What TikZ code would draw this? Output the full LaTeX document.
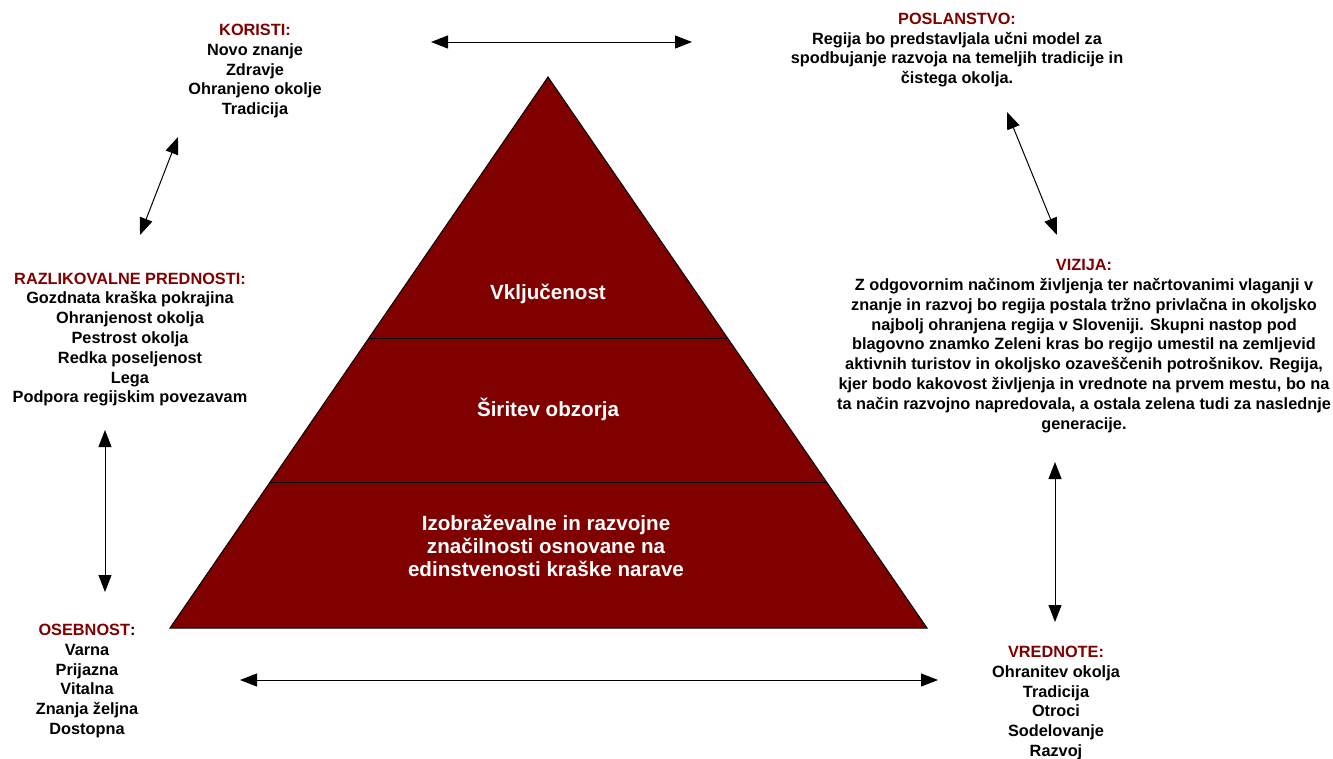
\documentclass[tikz,border=0pt]{standalone}
\usepackage{fontspec}
\setmainfont{Liberation Sans}
\usetikzlibrary{arrows.meta,calc}
\definecolor{darkred}{RGB}{128,0,0}
\begin{document}
\begin{tikzpicture}[x=1pt,y=-1pt,
  side/.style={align=center,font=\fontsize{16.3}{19.8}\selectfont\bfseries,inner sep=0pt},
  ptext/.style={align=center,font=\fontsize{20.6}{23}\selectfont\bfseries,text=white,inner sep=0pt},
  dbl/.style={{Triangle[length=17pt,width=13pt]}-{Triangle[length=17pt,width=13pt]},line width=1pt},
  layer/.style={line width=1pt}]
\useasboundingbox (0,0) rectangle (1333,758);
\fill[white] (0,0) rectangle (1333,758);
% pyramid
\coordinate (apex) at (548,77);
\coordinate (bl) at (170,628);
\coordinate (br) at (927,628);
\draw[fill=darkred,line width=1pt] (apex) -- (bl) -- (br) -- cycle;
\coordinate (d1l) at ($(apex)!0.4737!(bl)$);
\coordinate (d1r) at ($(apex)!0.4737!(br)$);
\coordinate (d2l) at ($(apex)!0.7368!(bl)$);
\coordinate (d2r) at ($(apex)!0.7368!(br)$);
\draw[layer] (d1l) -- (d1r);
\draw[layer] (d2l) -- (d2r);
\node[ptext] (p1) at (548,294) {Vključenost};
\node[ptext] (p2) at (548,409) {Širitev obzorja};
\node[ptext] (p3) at (546,546) {Izobraževalne in razvojne\\značilnosti osnovane na\\edinstvenosti kraške narave};
% side texts
\node[side] (koristi) at (255,71) {{\color{darkred}KORISTI:}\\Novo znanje\\Zdravje\\Ohranjeno okolje\\Tradicija};
\node[side] (poslanstvo) at (957,50) {{\color{darkred}POSLANSTVO:}\\Regija bo predstavljala učni model za\\spodbujanje razvoja na temeljih tradicije in\\čistega okolja.};
\node[side] (razlik) at (130,339.5) {{\color{darkred}RAZLIKOVALNE PREDNOSTI:}\\Gozdnata kraška pokrajina\\Ohranjenost okolja\\Pestrost okolja\\Redka poseljenost\\Lega\\Podpora regijskim povezavam};
\node[side] (vizija) at (1084,346) {{\color{darkred}VIZIJA:}\\Z odgovornim načinom življenja ter načrtovanimi vlaganji v\\znanje in razvoj bo regija postala tržno privlačna in okoljsko\\najbolj ohranjena regija v Sloveniji. Skupni nastop pod\\blagovno znamko Zeleni kras bo regijo umestil na zemljevid\\aktivnih turistov in okoljsko ozaveščenih potrošnikov. Regija,\\kjer bodo kakovost življenja in vrednote na prvem mestu, bo na\\ta način razvojno napredovala, a ostala zelena tudi za naslednje\\generacije.};
\node[side] (osebnost) at (87,681) {{\color{darkred}OSEBNOST}:\\Varna\\Prijazna\\Vitalna\\Znanja željna\\Dostopna};
\node[side] (vrednote) at (1056,703) {{\color{darkred}VREDNOTE:}\\Ohranitev okolja\\Tradicija\\Otroci\\Sodelovanje\\Razvoj};
% arrows
\coordinate (t1) at (431,42);   \coordinate (t2) at (692,42);
\coordinate (b1) at (240,680);  \coordinate (b2) at (938,680);
\coordinate (l1) at (178,137);  \coordinate (l2) at (140,235);
\coordinate (r1) at (1007,112); \coordinate (r2) at (1057,235);
\coordinate (v1) at (105,430);  \coordinate (v2) at (105,592);
\coordinate (w1) at (1055,462); \coordinate (w2) at (1055,622);
\draw[dbl] (t1) -- (t2);
\draw[dbl] (b1) -- (b2);
\draw[dbl] (l1) -- (l2);
\draw[dbl] (r1) -- (r2);
\draw[dbl] (v1) -- (v2);
\draw[dbl] (w1) -- (w2);
\end{tikzpicture}
\end{document}
